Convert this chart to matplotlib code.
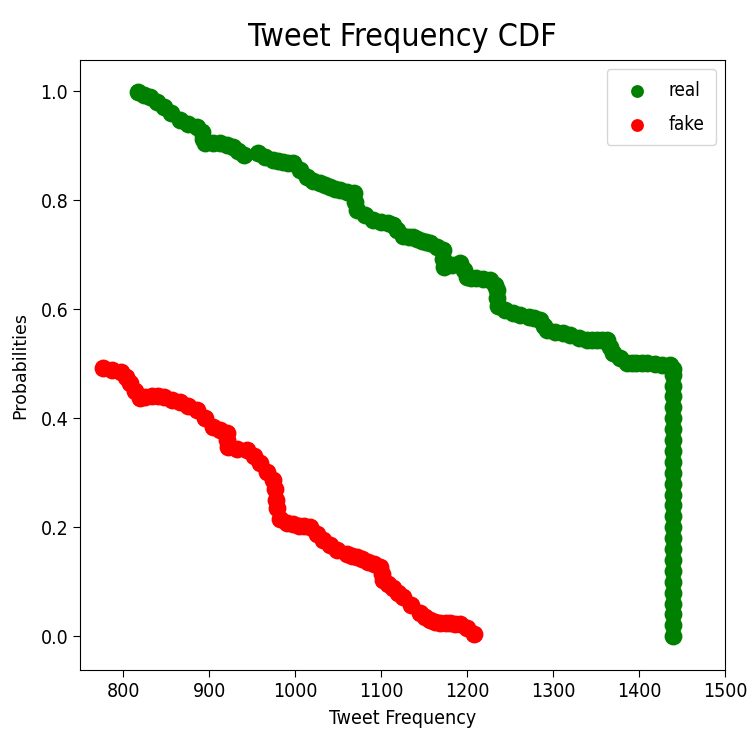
import matplotlib
matplotlib.use("Agg")
import matplotlib.pyplot as plt

# ── Data (tweet frequency vs probability) ──
real_freq = [817, 824, 831, 839, 847, 856, 866, 876, 886, 892, 893, 895,
             904, 913, 921, 928, 934, 940, 957, 965, 974, 980, 986, 992, 998,
             1006, 1014, 1021, 1029, 1035, 1040, 1046, 1052, 1060, 1068, 1070,
             1072, 1081, 1091, 1100, 1108, 1114, 1119, 1126, 1132, 1137, 1142,
             1147, 1152, 1157, 1165, 1172, 1172, 1173, 1182, 1192, 1196, 1200,
             1205, 1210, 1218, 1227, 1232, 1235, 1235, 1236, 1244, 1253, 1262,
             1272, 1278, 1285, 1290, 1293, 1302, 1312, 1320, 1330, 1339, 1345,
             1351, 1357, 1363, 1366, 1370, 1378, 1386, 1392, 1397, 1403, 1409,
             1418, 1427, 1436, 1440,
             1440, 1440, 1440, 1440, 1440, 1440, 1440, 1440, 1440, 1440, 1440,
             1440, 1440, 1440, 1440, 1440, 1440, 1440, 1440, 1440, 1440, 1440,
             1440, 1440, 1440]
real_prob = [0.998, 0.993, 0.989, 0.980, 0.971, 0.960, 0.947, 0.940, 0.934,
             0.925, 0.912, 0.905, 0.905, 0.905, 0.901, 0.898, 0.890, 0.883,
             0.886, 0.880, 0.873, 0.871, 0.870, 0.869, 0.868, 0.855, 0.842,
             0.836, 0.831, 0.828, 0.825, 0.821, 0.818, 0.815, 0.813, 0.797,
             0.782, 0.772, 0.763, 0.760, 0.758, 0.755, 0.745, 0.735, 0.733,
             0.732, 0.729, 0.726, 0.724, 0.721, 0.714, 0.708, 0.692, 0.677,
             0.681, 0.684, 0.671, 0.659, 0.658, 0.657, 0.655, 0.653, 0.644,
             0.635, 0.620, 0.606, 0.598, 0.593, 0.590, 0.585, 0.583, 0.580,
             0.570, 0.561, 0.558, 0.556, 0.552, 0.547, 0.543, 0.543, 0.543,
             0.543, 0.543, 0.531, 0.519, 0.510, 0.501, 0.501, 0.501, 0.501,
             0.501, 0.499, 0.498, 0.497, 0.490,
             0.48, 0.46, 0.44, 0.42, 0.40, 0.38, 0.36, 0.34, 0.32, 0.30, 0.28,
             0.26, 0.24, 0.22, 0.20, 0.18, 0.16, 0.14, 0.12, 0.10, 0.08, 0.06,
             0.04, 0.02, 0.00]

fake_freq = [777, 787, 797, 803, 808, 814, 820, 826, 833, 840, 847, 857, 866,
             876, 886, 895, 905, 913, 921, 921, 922, 933, 944, 952, 959, 967,
             974, 977, 978, 979, 982, 991, 998, 1004, 1010, 1017, 1025, 1033,
             1041, 1049, 1060, 1066, 1072, 1078, 1085, 1092, 1099, 1101, 1102,
             1108, 1114, 1120, 1126, 1135, 1145, 1151, 1157, 1163, 1169, 1175,
             1180, 1186, 1192, 1200, 1208]
fake_prob = [0.492, 0.489, 0.484, 0.475, 0.464, 0.450, 0.437, 0.439, 0.440,
             0.440, 0.439, 0.434, 0.429, 0.422, 0.415, 0.400, 0.384, 0.378,
             0.372, 0.360, 0.347, 0.344, 0.341, 0.330, 0.317, 0.302, 0.286,
             0.270, 0.250, 0.235, 0.215, 0.207, 0.205, 0.203, 0.202, 0.200,
             0.188, 0.176, 0.167, 0.158, 0.151, 0.148, 0.145, 0.141, 0.136,
             0.132, 0.127, 0.115, 0.103, 0.096, 0.088, 0.080, 0.072, 0.057,
             0.042, 0.036, 0.030, 0.027, 0.024, 0.024, 0.024, 0.023, 0.022,
             0.015, 0.004]

COND = dict(family="DejaVu Sans", fontstretch="condensed")

fig = plt.figure(figsize=(7.49, 7.42), dpi=100)
ax = fig.add_axes([0.107, 0.097, 0.861, 0.822])

ax.scatter(real_freq, real_prob, s=165, color="green", label="real", linewidths=0)
ax.scatter(fake_freq, fake_prob, s=165, color="red", label="fake", linewidths=0)

ax.set_xlim(750, 1500)
ax.set_ylim(-0.062, 1.057)
ax.set_xticks(range(800, 1501, 100))
ax.set_yticks([0.0, 0.2, 0.4, 0.6, 0.8, 1.0])
ax.tick_params(length=5)
for lab in ax.get_xticklabels() + ax.get_yticklabels():
    lab.set_fontsize(14)
    lab.set_fontstretch("condensed")

ax.set_title("Tweet Frequency CDF", fontsize=23, pad=10, **COND)
ax.set_xlabel("Tweet Frequency", fontsize=14, labelpad=6, **COND)
ax.set_ylabel("Probabilities", fontsize=12.5, labelpad=8)

ax.legend(loc="upper right", prop=dict(size=13.5, stretch="condensed"),
          handletextpad=0.7, borderpad=0.6, labelspacing=0.8, markerscale=0.72)

fig.savefig("out.png", dpi=100)
